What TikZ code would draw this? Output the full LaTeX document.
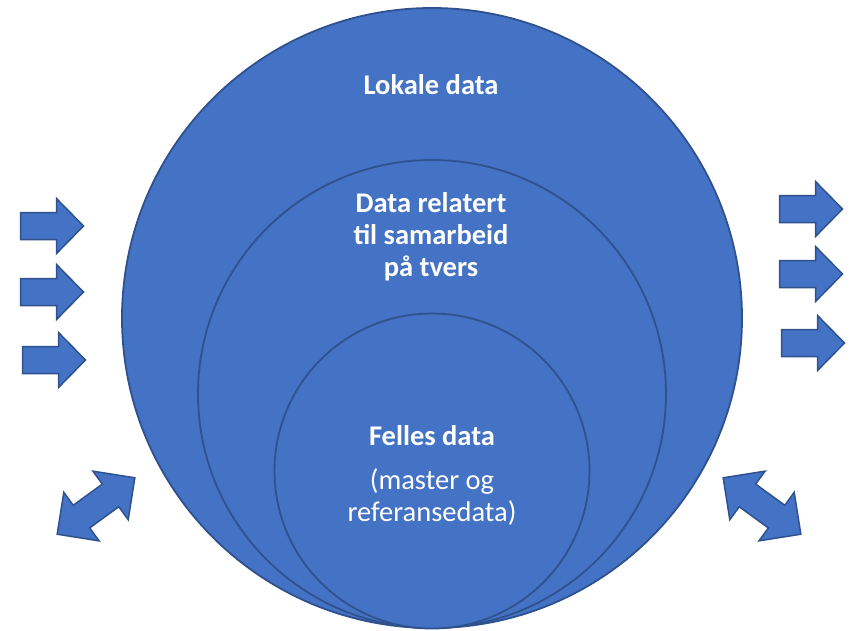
\documentclass[tikz,border=0pt]{standalone}
\usepackage{fontspec}
\setmainfont{Carlito}
\usetikzlibrary{positioning}

\definecolor{fillblue}{HTML}{4472C4}
\definecolor{edgeblue}{HTML}{2F528F}

\tikzset{
  ring/.style={circle, draw=edgeblue, fill=fillblue, line width=1.8pt, inner sep=0pt},
  lbl/.style={text=white, align=center, inner sep=0pt,
    font=\fontsize{28.5}{32}\selectfont},
  arrowshape/.style={draw=edgeblue, fill=fillblue, line width=1.5pt, line join=miter},
  pics/rightarrow/.style={code={
    \draw[arrowshape] (-31.5,-13.5) -- (4.5,-13.5) -- (4.5,-27.5) -- (31.5,0)
      -- (4.5,27.5) -- (4.5,13.5) -- (-31.5,13.5) -- cycle;
  }},
  pics/bothways/.style={code={
    \draw[arrowshape] (-48,0) -- (-18,-30) -- (-18,-14) -- (18,-14) -- (18,-30)
      -- (48,0) -- (18,30) -- (18,14) -- (-18,14) -- (-18,30) -- cycle;
  }}
}

\begin{document}
\begin{tikzpicture}[x=1pt, y=-1pt]
  \useasboundingbox (0,0) rectangle (854,630);

  % circles
  \node[ring, minimum size=620pt] (lokale) at (432,318) {};
  \node[ring, minimum size=468pt] (samarbeid) at (432,394) {};
  \node[ring, minimum size=315pt] (felles) at (432,471) {};

  % texts
  \node[lbl, font=\fontsize{28.5}{32}\selectfont\bfseries, anchor=base] (lokaletxt) at (431,94) {Lokale data};
  \node[lbl, font=\fontsize{28.5}{32}\selectfont\bfseries, anchor=north] (samarbeidtxt) at (431,192)
    {Data relatert\\til samarbeid\\på tvers};
  \node[lbl, font=\fontsize{28.5}{32}\selectfont\bfseries, anchor=base] (fellestxt) at (432,445) {Felles data};
  \node[lbl, anchor=north] (mastertxt) at (432,468) {(master og\\referansedata)};

  % arrows in and out
  \foreach \ax/\ay in {52/226, 52/292, 54/360, 811/209, 811/274, 813/343}
    \pic at (\ax,\ay) {rightarrow};
  \pic[rotate=36] at (96,506) {bothways};
  \pic[rotate=-36] at (762,506) {bothways};
\end{tikzpicture}
\end{document}
